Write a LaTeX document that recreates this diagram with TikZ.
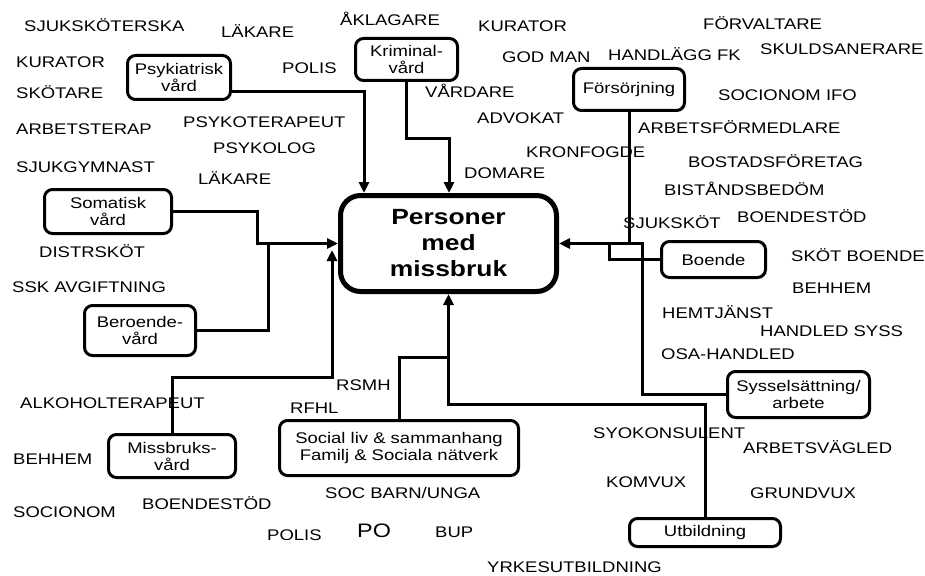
\documentclass[tikz,border=0pt]{standalone}
\usepackage{fontspec}
\setmainfont[FakeStretch=1.2]{Liberation Sans}
\usetikzlibrary{arrows.meta}
\tikzset{
  lbl/.style={anchor=base west, inner sep=0pt, font=\fontsize{15.4}{17}\selectfont},
  box/.style={draw, line width=3pt, rounded corners=8pt, align=center, inner sep=0pt,
              font=\fontsize{15.4}{17}\selectfont},
  conn/.style={line width=3pt},
  arr/.style={conn, -{Triangle[length=11pt,width=10pt]}},
}
\begin{document}
\begin{tikzpicture}[x=1pt,y=-1pt]
\useasboundingbox (0,0) rectangle (925,575);

% centre
\node[draw, line width=5pt, rounded corners=20pt, minimum width=216pt, minimum height=96pt,
      align=center, inner sep=0pt, font=\fontsize{22}{26}\selectfont\bfseries]
      (ctr) at (448.5,243.5) {Personer\\med\\missbruk};

% boxes
\node[box, minimum width=103pt, minimum height=44pt] (psy)  at (179,77.5)   {Psykiatrisk\\vård};
\node[box, minimum width=102pt, minimum height=42pt] (krim) at (406.5,59.5) {Kriminal-\\vård};
\node[box, minimum width=111pt, minimum height=42pt] (fors) at (629,89.5)   {Försörjning};
\node[box, minimum width=127pt, minimum height=44pt] (som)  at (108,211.5)  {Somatisk\\vård};
\node[box, minimum width=111pt, minimum height=50pt] (ber)  at (140,330.5)  {Beroende-\\vård};
\node[box, minimum width=127pt, minimum height=43pt] (mis)  at (172,456)    {Missbruks-\\vård};
\node[box, minimum width=239pt, minimum height=55pt] (soc)  at (399,448)    {Social liv \& sammanhang\\Familj \& Sociala nätverk};
\node[box, minimum width=104pt, minimum height=36pt] (boe)  at (713.5,259.5){Boende};
\node[box, minimum width=142pt, minimum height=46pt] (syss) at (798.5,394.5){Sysselsättning/\\arbete};
\node[box, minimum width=151pt, minimum height=28pt] (utb)  at (705,532.5)  {Utbildning};

\coordinate (misIn) at (332,250);

% connectors
\draw[arr] ([yshift=-14.5pt]psy.east) -| (ctr.north -| 364,0);
\draw[arr] (krim.south) -- (krim.south |- 0,138) -| (ctr.north -| 449,0);
\draw[arr] (som.east) -| (ctr.west -| 257,0) -- (ctr.west);
\draw[conn] (ber.east) -| (ctr.west -| 268,0);
\draw[arr] (mis.north) -- (mis.north |- 0,377) -| (misIn);
\draw[conn] (soc.north) |- (ctr.south |- 0,357);
\draw[arr] (utb.north) |- (ctr.south |- 0,404) -- (ctr.south);
\draw[conn] (fors.south) -- (fors.south |- ctr.east);
\draw[conn] (boe.west) -| (ctr.east -| 609,0);
\draw[arr] (syss.west) -| (ctr.east -| 642,0) -- (ctr.east);

% labels
\node[lbl] (l1)  at (24,32)   {SJUKSKÖTERSKA};
\node[lbl] (l2)  at (221,38)  {LÄKARE};
\node[lbl] (l3)  at (340,26)  {ÅKLAGARE};
\node[lbl] (l4)  at (16,68)   {KURATOR};
\node[lbl] (l5)  at (282,74)  {POLIS};
\node[lbl] (l6)  at (16,99)   {SKÖTARE};
\node[lbl] (l7)  at (16,134)  {ARBETSTERAP};
\node[lbl] (l8)  at (183,128) {PSYKOTERAPEUT};
\node[lbl] (l9)  at (213,153) {PSYKOLOG};
\node[lbl] (l10) at (16,172)  {SJUKGYMNAST};
\node[lbl] (l11) at (198,184) {LÄKARE};
\node[lbl] (l12) at (39,257)  {DISTRSKÖT};
\node[lbl] (l13) at (12,292)  {SSK AVGIFTNING};
\node[lbl] (l14) at (478,32)  {KURATOR};
\node[lbl] (l15) at (703,30)  {FÖRVALTARE};
\node[lbl] (l16) at (502,63)  {GOD MAN};
\node[lbl] (l17) at (608,61)  {HANDLÄGG FK};
\node[lbl] (l18) at (760,55)  {SKULDSANERARE};
\node[lbl] (l19) at (425,98)  {VÅRDARE};
\node[lbl] (l20) at (718,101) {SOCIONOM IFO};
\node[lbl] (l21) at (477,123) {ADVOKAT};
\node[lbl] (l22) at (638,133) {ARBETSFÖRMEDLARE};
\node[lbl] (l23) at (526,157) {KRONFOGDE};
\node[lbl] (l24) at (464,178) {DOMARE};
\node[lbl] (l25) at (688,167) {BOSTADSFÖRETAG};
\node[lbl] (l26) at (664,195) {BISTÅNDSBEDÖM};
\node[lbl] (l27) at (623,228) {SJUKSKÖT};
\node[lbl] (l28) at (737,222) {BOENDESTÖD};
\node[lbl] (l29) at (791,261) {SKÖT BOENDE};
\node[lbl] (l30) at (792,293) {BEHHEM};
\node[lbl] (l31) at (662,318) {HEMTJÄNST};
\node[lbl] (l32) at (760,336) {HANDLED SYSS};
\node[lbl] (l33) at (661,359) {OSA-HANDLED};
\node[lbl] (l34) at (336,390) {RSMH};
\node[lbl] (l35) at (290,413) {RFHL};
\node[lbl] (l36) at (20,408)  {ALKOHOLTERAPEUT};
\node[lbl] (l37) at (593,438) {SYOKONSULENT};
\node[lbl] (l38) at (743,453) {ARBETSVÄGLED};
\node[lbl] (l39) at (13,464)  {BEHHEM};
\node[lbl] (l40) at (606,487) {KOMVUX};
\node[lbl] (l41) at (325,498) {SOC BARN/UNGA};
\node[lbl] (l42) at (750,498) {GRUNDVUX};
\node[lbl] (l43) at (142,509) {BOENDESTÖD};
\node[lbl] (l44) at (13,517)  {SOCIONOM};
\node[lbl] (l45) at (267,540) {POLIS};
\node[lbl, font=\fontsize{19.5}{22}\selectfont] (l46) at (357,537) {PO};
\node[lbl] (l47) at (435,537) {BUP};
\node[lbl] (l48) at (487,572) {YRKESUTBILDNING};
\end{tikzpicture}
\end{document}
